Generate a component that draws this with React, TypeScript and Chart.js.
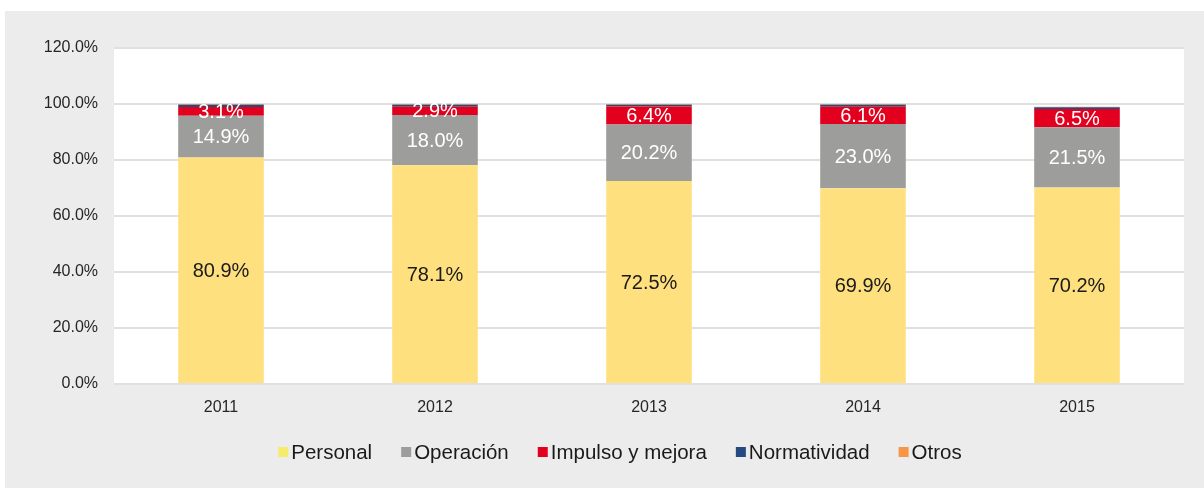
import React, { useEffect, useRef } from "react";
import { Chart, registerables } from "chart.js";

Chart.register(...registerables);

const categories = ["2011", "2012", "2013", "2014", "2015"];
const personal = [80.9, 78.1, 72.5, 69.9, 70.2];
const operacion = [14.9, 18.0, 20.2, 23.0, 21.5];
const impulso = [3.1, 2.9, 6.4, 6.1, 6.5];
const normatividad = [0.8, 0.7, 0.6, 0.7, 0.6];
const otros = [0.3, 0.3, 0.3, 0.3, 0.2];
const yTicks = [0, 20, 40, 60, 80, 100, 120];

const seriesNames = ["Personal", "Operación", "Impulso y mejora", "Normatividad", "Otros"];
const barColors = ["#FFE07F", "#9D9D9C", "#E3001F", "#254A82", "#F79646"];
const legendColors = ["#F6EC6C", "#9D9D9C", "#E3001F", "#254A82", "#F79646"];
const labelColors = ["#1a1a1a", "#ffffff", "#ffffff", null, null];

const FONT = "'Liberation Sans', Arial, Helvetica, sans-serif";

const plotBg = {
  id: "plotBg",
  beforeDraw(chart: any) {
    const { ctx, chartArea } = chart;
    ctx.save();
    ctx.fillStyle = "#ffffff";
    ctx.fillRect(chartArea.left, chartArea.top, chartArea.right - chartArea.left, chartArea.bottom - chartArea.top);
    ctx.restore();
  },
};

const dataLabels = {
  id: "dataLabels",
  afterDatasetsDraw(chart: any) {
    const { ctx } = chart;
    ctx.save();
    ctx.font = `20px ${FONT}`;
    ctx.textAlign = "center";
    ctx.textBaseline = "middle";
    chart.data.datasets.forEach((ds: any, i: number) => {
      const color = labelColors[i];
      if (!color) return;
      const meta = chart.getDatasetMeta(i);
      meta.data.forEach((bar: any, j: number) => {
        const v = ds.data[j];
        const y = (bar.y + bar.base) / 2;
        ctx.fillStyle = color;
        ctx.fillText(v.toFixed(1) + "%", bar.x, y + 1);
      });
    });
    ctx.restore();
  },
};

const customLegend = {
  id: "customLegend",
  afterDraw(chart: any) {
    const { ctx } = chart;
    ctx.save();
    ctx.font = `20.5px ${FONT}`;
    ctx.textBaseline = "middle";
    const box = 10;
    const gapBoxText = 3;
    const gapItems = 29;
    const widths = seriesNames.map((n) => ctx.measureText(n).width);
    const total =
      widths.reduce((a, b) => a + b, 0) + seriesNames.length * (box + gapBoxText) + (seriesNames.length - 1) * gapItems;
    let x = 615 - total / 2;
    const y = 441;
    seriesNames.forEach((n, i) => {
      ctx.fillStyle = legendColors[i];
      ctx.fillRect(x, y - box / 2, box, box);
      x += box + gapBoxText;
      ctx.fillStyle = "#1a1a1a";
      ctx.fillText(n, x, y + 1);
      x += widths[i] + gapItems;
    });
    ctx.restore();
  },
};

export default function App() {
  const ref = useRef<HTMLCanvasElement>(null);
  useEffect(() => {
    document.body.style.margin = "0";
    const series = [personal, operacion, impulso, normatividad, otros];
    const chart = new Chart(ref.current!, {
      type: "bar",
      data: {
        labels: categories,
        datasets: series.map((d, i) => ({
          label: seriesNames[i],
          data: d,
          backgroundColor: barColors[i],
          borderWidth: 0,
          categoryPercentage: 0.4,
          barPercentage: 1,
        })),
      },
      options: {
        animation: false,
        responsive: false,
        maintainAspectRatio: false,
        layout: { padding: { left: 0, right: 20, top: 37, bottom: 0 } },
        plugins: {
          legend: { display: false },
          tooltip: { enabled: false },
        },
        scales: {
          x: {
            stacked: true,
            grid: { display: false, drawTicks: false },
            border: { display: false },
            ticks: { color: "#262626", font: { size: 16, family: FONT }, padding: 14 },
            afterFit: (s: any) => {
              s.height = 104;
            },
          },
          y: {
            stacked: true,
            min: 0,
            max: 120,
            afterBuildTicks: (s: any) => {
              s.ticks = yTicks.map((v) => ({ value: v }));
            },
            grid: { color: "#E0E0E0", lineWidth: 2, drawTicks: false },
            border: { display: false },
            ticks: {
              color: "#262626",
              font: { size: 16, family: FONT },
              padding: 16,
              callback: (v: any) => Number(v).toFixed(1) + "%",
            },
            afterFit: (s: any) => {
              s.width = 109;
            },
          },
        },
      },
      plugins: [plotBg, dataLabels, customLegend],
    });
    return () => chart.destroy();
  }, []);
  return (
    <div
      style={{
        position: "absolute",
        left: 5,
        top: 11,
        width: 1199,
        height: 477,
        background: "#ECECEC",
      }}
    >
      <canvas ref={ref} width={1199} height={477} style={{ display: "block" }} />
    </div>
  );
}
